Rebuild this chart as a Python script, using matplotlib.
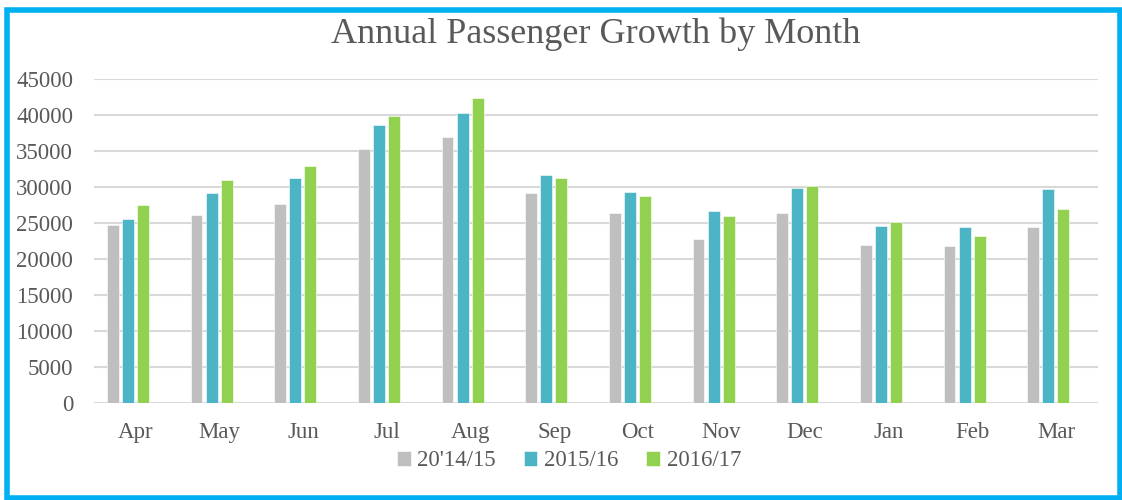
import matplotlib
matplotlib.use("Agg")
import matplotlib.pyplot as plt
from matplotlib.patches import Rectangle
import numpy as np

# Data
months = ["Apr", "May", "Jun", "Jul", "Aug", "Sep", "Oct", "Nov", "Dec", "Jan", "Feb", "Mar"]
series_names = ["20'14/15", "2015/16", "2016/17"]
y2014 = [24700, 26100, 27700, 35300, 37000, 29200, 26400, 22800, 26400, 21900, 21800, 24500]
y2015 = [25500, 29200, 31300, 38600, 40300, 31700, 29300, 26600, 29900, 24600, 24400, 29700]
y2016 = [27500, 31000, 32900, 39900, 42300, 31200, 28800, 26000, 30100, 25200, 23200, 27000]
yticks = list(range(0, 45001, 5000))

colors = ["#BFBFBF", "#4BB5C6", "#92D050"]
text_color = "#595959"
serif = ["Liberation Serif", "DejaVu Serif"]

plt.rcParams["font.family"] = serif

W, H = 1122, 500
fig = plt.figure(figsize=(W / 100, H / 100), dpi=100)
ax = fig.add_axes([94 / W, 97 / H, 1004 / W, 324 / H])

x = np.arange(len(months))
bar_w = 0.143
step = 0.18
shift = -0.095  # bars sit a little left of the category centre
for i, (vals, name, c) in enumerate(zip([y2014, y2015, y2016], series_names, colors)):
    ax.bar(x + shift + (i - 1) * step, vals, width=bar_w, color=c, label=name,
           edgecolor="white", linewidth=0.4, zorder=3)

ax.set_xlim(-0.5, len(months) - 0.5)
ax.set_ylim(0, 45000)
ax.set_yticks(yticks)
ax.set_yticklabels([str(v) for v in yticks])
ax.set_xticks(x)
ax.set_xticklabels(months)
ax.grid(axis="y", color="#D9D9D9", linewidth=1.5, zorder=0)
ax.set_axisbelow(True)
for s in ax.spines.values():
    s.set_visible(False)
ax.tick_params(axis="both", length=0, labelsize=16.5, colors=text_color)
ax.tick_params(axis="y", pad=15)
ax.tick_params(axis="x", pad=14)

ax.set_title("Annual Passenger Growth by Month", fontsize=26, color=text_color, pad=26)

fig.legend(loc="center", bbox_to_anchor=(569 / W, 39 / H), ncol=3, frameon=False,
           prop={"family": serif, "size": 16.5}, handlelength=0.6, handleheight=0.6,
           handletextpad=0.3, columnspacing=1.2, labelcolor=text_color)

fig.patches.append(Rectangle((7 / W, 2.5 / H), 1113 / W, 488 / H, transform=fig.transFigure,
                             fill=False, edgecolor="#00B0F0", linewidth=4))

fig.savefig("out.png", dpi=100)
